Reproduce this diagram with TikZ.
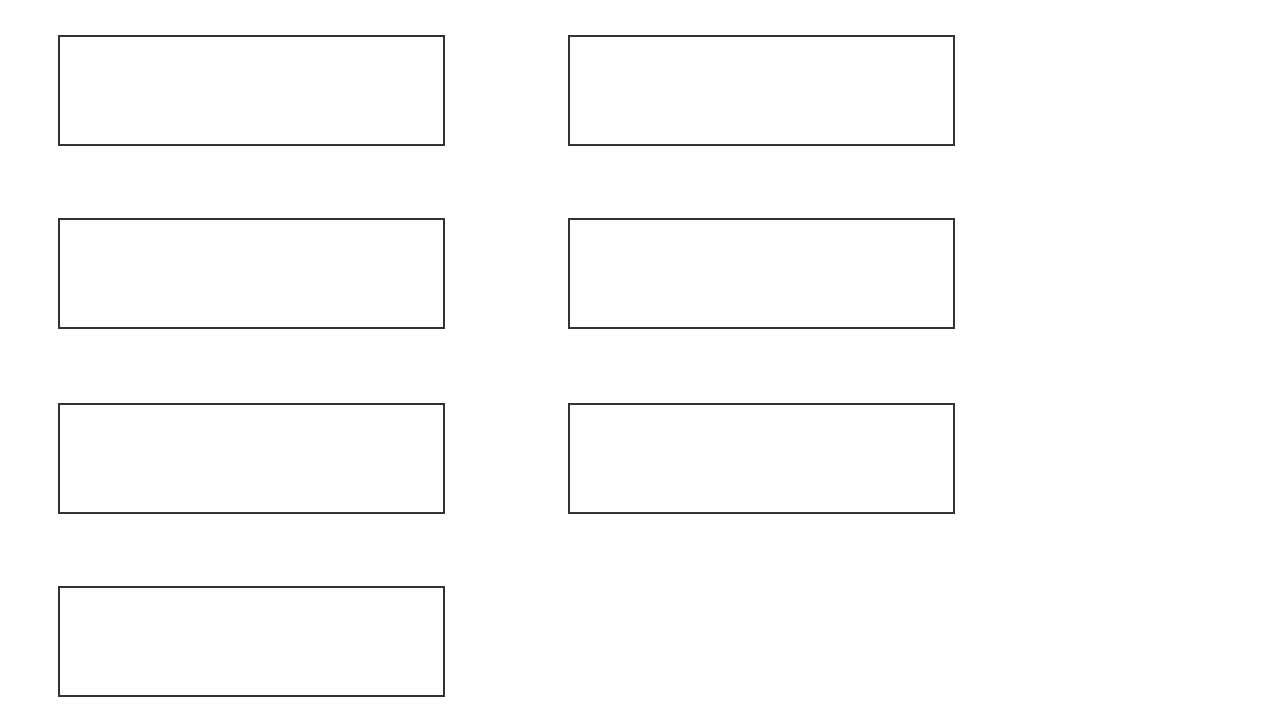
\documentclass[tikz,border=0pt]{standalone}
\usepackage{tikz}
\usetikzlibrary{positioning}

\begin{document}
\begin{tikzpicture}[box/.style={rectangle, draw=black!80, line width=1pt, minimum width=9.625cm, minimum height=2.725cm, inner sep=0pt}]
\useasboundingbox (0,0) rectangle (32,18);
\node[box] (a) at (6.2875,15.7375) {};
\node[box] (b) at (19.0375,15.7375) {};
\node[box] (c) at (6.2875,11.1625) {};
\node[box] (d) at (19.0375,11.1625) {};
\node[box] (e) at (6.2875,6.5375) {};
\node[box] (f) at (19.0375,6.5375) {};
\node[box] (g) at (6.2875,1.9625) {};
    \end{tikzpicture}
\end{document}
